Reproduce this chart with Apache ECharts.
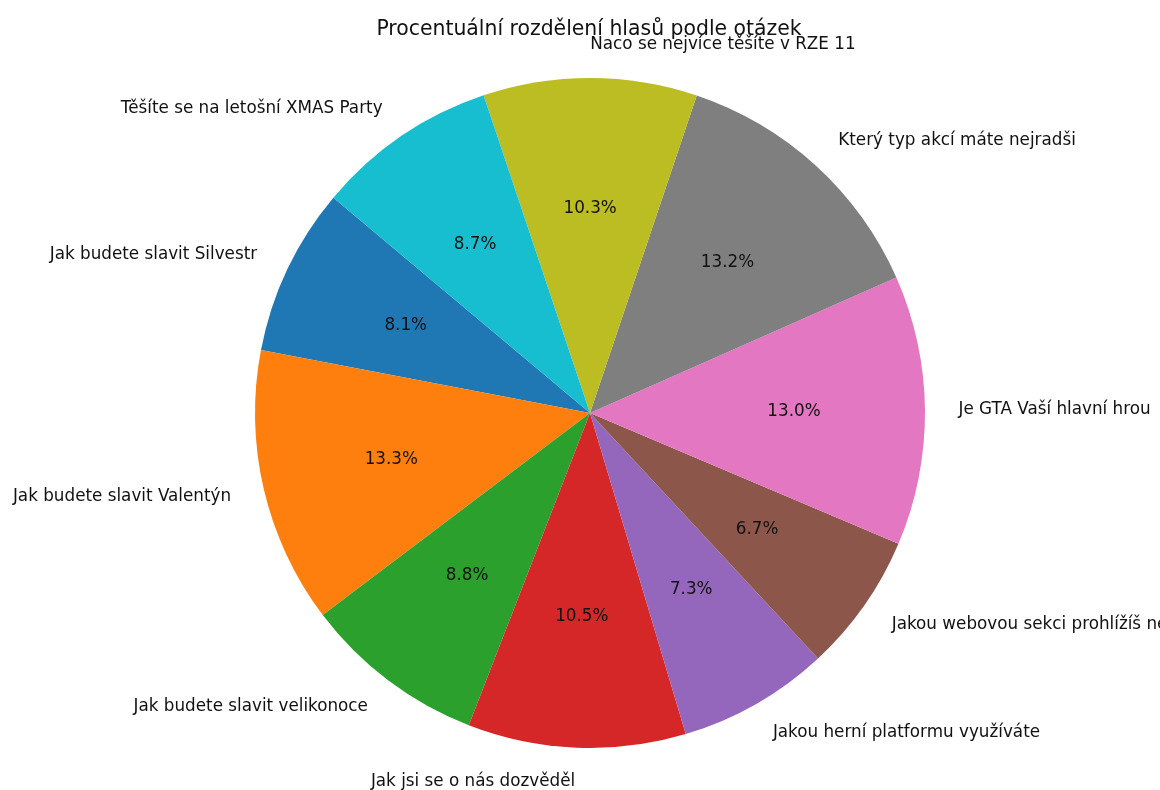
<!DOCTYPE html>
<html>
<head>
<meta charset="utf-8">
<script src="https://cdn.jsdelivr.net/npm/echarts@6/dist/echarts.min.js"></script>
<style>html,body{margin:0;padding:0;background:#fff}#c{width:1160px;height:790px}</style>
</head>
<body>
<div id="c"></div>
<script>
const categories = [
  "Jak budete slavit Silvestr",
  "Jak budete slavit Valentýn",
  "Jak budete slavit velikonoce",
  "Jak jsi se o nás dozvěděl",
  "Jakou herní platformu využíváte",
  "Jakou webovou sekci prohlížíš nejčastěji",
  "Je GTA Vaší hlavní hrou",
  "Který typ akcí máte nejradši",
  "Naco se nejvíce těšíte v RZE 11",
  "Těšíte se na letošní XMAS Party"
];
const percents = [8.1, 13.3, 8.8, 10.5, 7.3, 6.7, 13.0, 13.2, 10.3, 8.74];
const colors = ["#1f77b4","#ff7f0e","#2ca02c","#d62728","#9467bd","#8c564b","#e377c2","#7f7f7f","#bcbd22","#17becf"];

const R = 335;
const CX = 590, CY = 413;
const font = "DejaVu Sans";
const LABEL_SIZE = 16.8;

const mainData = categories.map((c, i) => ({ name: c, value: percents[i], itemStyle: { color: colors[i] } }));
const pctData = categories.map((c, i) => ({ name: c, value: percents[i] }));

const chart = echarts.init(document.getElementById('c'), null, { renderer: 'canvas' });
chart.setOption({
  backgroundColor: '#ffffff',
  animation: false,
  title: {
    text: 'Procentuální rozdělení hlasů podle otázek',
    left: 584, top: 15, textAlign: 'center',
    textStyle: { fontFamily: font, fontSize: 20.4, fontWeight: 'normal', color: '#111' }
  },
  series: [
    {
      type: 'pie',
      center: [CX, CY],
      radius: [0, R],
      startAngle: 140,
      clockwise: false,
      avoidLabelOverlap: false,
      minAngle: 0,
      silent: true,
      itemStyle: { borderWidth: 0 },
      label: {
        show: true, position: 'outside',
        fontFamily: font, fontSize: LABEL_SIZE, color: '#111',
        distanceToLabelLine: 0,
        formatter: '{b}'
      },
      labelLine: { show: false, length: R * 0.1, length2: 0 },
      data: mainData
    },
    {
      type: 'pie',
      center: [CX, CY],
      radius: [0, R * 1.2],
      startAngle: 140,
      clockwise: false,
      avoidLabelOverlap: false,
      silent: true,
      itemStyle: { color: 'rgba(0,0,0,0)', borderWidth: 0 },
      label: {
        show: true, position: 'inside',
        fontFamily: font, fontSize: LABEL_SIZE, color: '#111',
        formatter: p => p.value.toFixed(1) + '%'
      },
      labelLine: { show: false },
      data: pctData
    }
  ]
});
</script>
</body>
</html>
